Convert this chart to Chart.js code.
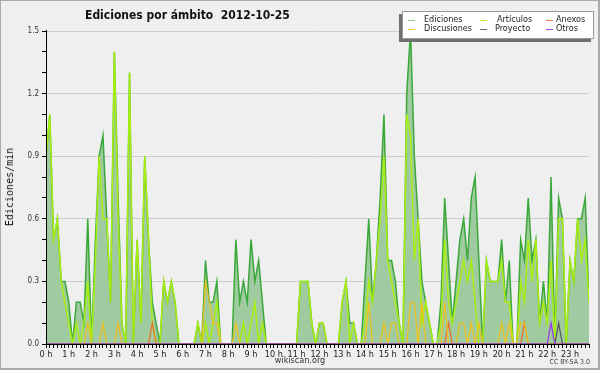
<!doctype html>
<html lang="es">
<head>
<meta charset="UTF-8" />
<title>Ediciones por ámbito 2012-10-25</title>
<script src="https://cdn.jsdelivr.net/npm/chart.js"></script>
<style>
  body { margin: 0; background: #fff; }
  #wrap {
    position: relative; width: 600px; height: 370px; background: #efefef;
    font-family: "DejaVu Sans Condensed", "DejaVu Sans", sans-serif; color: #222;
  }
  #wrap canvas { position: absolute; left: 0; top: 0; }
  .txt { position: absolute; white-space: pre; line-height: 1; }
  #title { left: 85px; top: 9px; font-size: 12px; font-weight: bold; color: #111; }
  #ylabel {
    left: 10px; top: 187px; font-family: "DejaVu Sans Mono", monospace; font-size: 10px;
    transform: translate(-50%, -50%) rotate(-90deg); color: #111;
  }
  #site { left: 300px; top: 356px; font-size: 9px; transform: translateX(-50%); color: #333; }
  #lic { right: 10px; top: 359px; font-size: 7px; color: #444; }
  #legend {
    position: absolute; left: 402px; top: 11px; width: 190px; height: 26px;
    background: #fff; border: 1px solid #999; box-shadow: -3px 3px 0 #707070;
  }
  .item { position: absolute; font-size: 9px; color: #222; line-height: 1; white-space: pre; }
  .item i { position: absolute; top: 5px; width: 7px; height: 1px; }
  #frame { position: absolute; left: 0; top: 0; width: 600px; height: 370px; box-sizing: border-box;
    border: 1px solid #aaa; border-right-width: 2px; border-bottom-width: 2px; pointer-events: none; }
</style>
</head>
<body>
<div id="wrap">
  <canvas id="chart" width="600" height="370"></canvas>
  <div class="txt" id="title">Ediciones por ámbito  2012-10-25</div>
  <div class="txt" id="ylabel">Ediciones/min</div>
  <div class="txt" id="site">wikiscan.org</div>
  <div class="txt" id="lic">CC BY-SA 3.0</div>
  <div id="legend"></div>
  <div id="frame"></div>
</div>

<script>
  // tick labels of the x axis, one per hour
  const hourLabels = ["0 h", "1 h", "2 h", "3 h", "4 h", "5 h", "6 h", "7 h", "8 h", "9 h", "10 h", "11 h",
    "12 h", "13 h", "14 h", "15 h", "16 h", "17 h", "18 h", "19 h", "20 h", "21 h", "22 h", "23 h"];
  const yTickLabels = ["0.0", "0.3", "0.6", "0.9", "1.2", "1.5"];

  // edits per minute, one value every 10 minutes (00:00 .. 23:50)
  const ediciones = [
    0.9, 1.1, 0.5, 0.6, 0.3, 0.3, 0.2, 0, 0.2, 0.2, 0.1, 0.6,
    0, 0.5, 0.9, 1.0, 0.6, 0.2, 1.4, 0.7, 0.1, 0, 1.3, 0,
    0.5, 0.1, 0.9, 0.5, 0.2, 0.1, 0, 0.3, 0.2, 0.3, 0.2, 0,
    0, 0, 0, 0, 0.1, 0, 0.4, 0.2, 0.2, 0.3, 0, 0,
    0, 0, 0.5, 0.2, 0.3, 0.2, 0.5, 0.3, 0.4, 0.2, 0, 0,
    0, 0, 0, 0, 0, 0, 0, 0.3, 0.3, 0.3, 0.1, 0,
    0.1, 0.1, 0, 0, 0, 0, 0.2, 0.3, 0.1, 0.1, 0, 0,
    0.3, 0.6, 0.2, 0.4, 0.7, 1.1, 0.4, 0.4, 0.3, 0.1, 0, 1.2,
    1.5, 0.9, 0.6, 0.3, 0.2, 0.1, 0, 0, 0.2, 0.7, 0.4, 0.1,
    0.3, 0.5, 0.6, 0.4, 0.7, 0.8, 0.4, 0, 0.4, 0.3, 0.3, 0.3,
    0.5, 0.2, 0.4, 0, 0, 0.5, 0.4, 0.7, 0.4, 0.5, 0.1, 0.3,
    0.1, 0.8, 0, 0.7, 0.6, 0, 0.4, 0.3, 0.6, 0.6, 0.7, 0.2
  ];
  const articulos = [
    0.9, 1.1, 0.5, 0.6, 0.3, 0.2, 0.1, 0, 0.1, 0, 0.1, 0.3,
    0, 0.4, 0.9, 0.6, 0.6, 0.2, 1.4, 0.6, 0.1, 0, 1.3, 0,
    0.5, 0.1, 0.9, 0.5, 0.1, 0, 0, 0.3, 0.2, 0.3, 0.2, 0,
    0, 0, 0, 0, 0.1, 0, 0.1, 0, 0.1, 0.2, 0, 0,
    0, 0, 0, 0, 0.1, 0, 0.1, 0.2, 0, 0.1, 0, 0,
    0, 0, 0, 0, 0, 0, 0, 0.3, 0.3, 0.3, 0.1, 0,
    0.1, 0.1, 0, 0, 0, 0, 0.2, 0.3, 0, 0.1, 0, 0,
    0.1, 0.3, 0.2, 0.4, 0.6, 0.9, 0.4, 0.3, 0.2, 0.1, 0, 1.1,
    1.0, 0.4, 0.6, 0.1, 0.2, 0.1, 0, 0, 0.1, 0.5, 0.2, 0.1,
    0.2, 0.3, 0.4, 0.3, 0.4, 0.2, 0, 0, 0.4, 0.3, 0.3, 0.3,
    0.4, 0.2, 0.2, 0, 0, 0.3, 0.2, 0.5, 0.3, 0.5, 0.1, 0.2,
    0.1, 0.4, 0, 0.6, 0.6, 0, 0.4, 0.3, 0.6, 0.4, 0.5, 0.2
  ];
  const discusiones = [
    0, 0, 0, 0, 0, 0, 0, 0, 0, 0, 0, 0.1,
    0, 0, 0, 0.1, 0, 0, 0, 0.1, 0, 0, 0, 0,
    0, 0, 0, 0, 0, 0, 0, 0, 0, 0, 0, 0,
    0, 0, 0, 0, 0, 0, 0.3, 0.2, 0.1, 0.1, 0, 0,
    0, 0, 0.1, 0, 0, 0, 0, 0, 0, 0, 0, 0,
    0, 0, 0, 0, 0, 0, 0, 0, 0, 0, 0, 0,
    0, 0, 0, 0, 0, 0, 0, 0, 0, 0, 0, 0,
    0, 0.2, 0, 0, 0, 0.1, 0, 0.1, 0.1, 0, 0, 0,
    0.2, 0.2, 0, 0.2, 0, 0, 0, 0, 0, 0.2, 0, 0,
    0, 0.1, 0.1, 0, 0.1, 0, 0.1, 0, 0, 0, 0, 0,
    0.1, 0, 0.1, 0, 0, 0.1, 0.1, 0, 0, 0, 0, 0,
    0, 0, 0, 0, 0, 0, 0, 0, 0, 0, 0, 0
  ];
  const anexos = [
    0, 0, 0, 0, 0, 0, 0, 0, 0, 0, 0, 0,
    0, 0, 0, 0, 0, 0, 0, 0, 0, 0, 0, 0,
    0, 0, 0, 0, 0.1, 0, 0, 0, 0, 0, 0, 0,
    0, 0, 0, 0, 0, 0, 0, 0, 0, 0, 0, 0,
    0, 0, 0, 0, 0, 0, 0, 0, 0, 0, 0, 0,
    0, 0, 0, 0, 0, 0, 0, 0, 0, 0, 0, 0,
    0, 0, 0, 0, 0, 0, 0, 0, 0, 0, 0, 0,
    0, 0, 0, 0, 0, 0, 0, 0, 0, 0, 0, 0,
    0, 0, 0, 0, 0, 0, 0, 0, 0, 0, 0.1, 0,
    0, 0, 0, 0, 0, 0, 0, 0, 0, 0, 0, 0,
    0, 0, 0, 0, 0, 0, 0.1, 0, 0, 0, 0, 0,
    0, 0, 0, 0, 0, 0, 0, 0, 0, 0, 0, 0
  ];
  const proyecto = [
    0, 0, 0, 0, 0, 0, 0, 0, 0, 0, 0, 0,
    0, 0, 0, 0, 0, 0, 0, 0, 0, 0, 0, 0,
    0, 0, 0, 0, 0, 0, 0, 0, 0, 0, 0, 0,
    0, 0, 0, 0, 0, 0, 0, 0, 0, 0, 0, 0,
    0, 0, 0, 0, 0, 0, 0, 0, 0, 0, 0, 0,
    0, 0, 0, 0, 0, 0, 0, 0, 0, 0, 0, 0,
    0, 0, 0, 0, 0, 0, 0, 0, 0, 0, 0, 0,
    0, 0, 0, 0, 0, 0, 0, 0, 0, 0, 0, 0,
    0, 0, 0, 0, 0, 0, 0, 0, 0, 0, 0, 0,
    0, 0, 0, 0, 0, 0, 0, 0, 0, 0, 0, 0,
    0, 0, 0, 0, 0, 0, 0, 0, 0, 0, 0, 0,
    0, 0, 0, 0.1, 0, 0, 0, 0, 0, 0, 0, 0
  ];
  const otros = [
    0, 0, 0, 0, 0, 0, 0, 0, 0, 0, 0, 0,
    0, 0, 0, 0, 0, 0, 0, 0, 0, 0, 0, 0,
    0, 0, 0, 0, 0, 0, 0, 0, 0, 0, 0, 0,
    0, 0, 0, 0, 0, 0, 0, 0, 0, 0, 0, 0,
    0, 0, 0, 0, 0, 0, 0, 0, 0, 0, 0, 0,
    0, 0, 0, 0, 0, 0, 0, 0, 0, 0, 0, 0,
    0, 0, 0, 0, 0, 0, 0, 0, 0, 0, 0, 0,
    0, 0, 0, 0, 0, 0, 0, 0, 0, 0, 0, 0,
    0, 0, 0, 0, 0, 0, 0, 0, 0, 0, 0, 0,
    0, 0, 0, 0, 0, 0, 0, 0, 0, 0, 0, 0,
    0, 0, 0, 0, 0, 0, 0, 0, 0, 0, 0, 0,
    0, 0.1, 0, 0, 0, 0, 0, 0, 0, 0, 0, 0
  ];

  const series = [
    { name: "Ediciones", data: ediciones, color: "#3aa83a", key: "#7fcf7f", width: 1.5 },
    { name: "Artículos", data: articulos, color: "#aaee11", key: "#bbee33", width: 1.5 },
    { name: "Anexos", data: anexos, color: "#ee6a2a", key: "#ee7744", width: 1.2 },
    { name: "Discusiones", data: discusiones, color: "#f2c21b", key: "#f5cc33", width: 1.2 },
    { name: "Proyecto", data: proyecto, color: "#555555", key: "#666666", width: 1.2 },
    { name: "Otros", data: otros, color: "#9a33ee", key: "#9a44ee", width: 1.2 },
  ];

  // legend, two rows of three: [text left, text top, offset of the line key]
  const legendPos = {
    "Ediciones": [21, 3, -16], "Artículos": [94, 3, -17], "Anexos": [153, 3, -10],
    "Discusiones": [21, 12, -16], "Proyecto": [92, 12, -15], "Otros": [153, 12, -10],
  };
  const legend = document.getElementById("legend");
  series.forEach((s) => {
    const [l, t, k] = legendPos[s.name];
    const el = document.createElement("span");
    el.className = "item";
    el.style.left = l + "px";
    el.style.top = t + "px";
    el.innerHTML = `<i style="left:${k}px;background:${s.key}"></i>${s.name}`;
    legend.appendChild(el);
  });

  const FONT = "'DejaVu Sans Condensed', 'DejaVu Sans', sans-serif";

  // axes in black, drawn over the series lines that sit on zero
  const axisLines = {
    id: "axisLines",
    afterDatasetsDraw(chart) {
      const { ctx, chartArea: a } = chart;
      ctx.save();
      ctx.strokeStyle = "#000";
      ctx.lineWidth = 1;
      ctx.beginPath();
      ctx.moveTo(a.left + 0.5, a.top - 1);
      ctx.lineTo(a.left + 0.5, a.bottom + 0.5);
      ctx.lineTo(a.right + 1, a.bottom + 0.5);
      ctx.stroke();
      ctx.restore();
    },
  };

  new Chart(document.getElementById("chart"), {
    type: "line",
    data: {
      datasets: series.map((s, k) => ({
        label: s.name,
        data: s.data.map((v, i) => ({ x: i, y: v })),
        borderColor: s.color,
        borderWidth: s.width,
        backgroundColor: k === 0 ? "#a0cba0" : s.color,
        fill: k === 0 ? "origin" : false,
        pointRadius: 0,
        tension: 0,
        order: k === 0 ? 10 : 6 - k,
      })),
    },
    options: {
      responsive: false,
      animation: false,
      layout: { padding: { top: 31, right: 11, left: 0, bottom: 0 } },
      plugins: { legend: { display: false }, tooltip: { enabled: false } },
      scales: {
        x: {
          type: "linear",
          min: 0,
          max: 143,
          afterFit: (s) => { s.height = 26; },
          border: { display: false },
          grid: { drawOnChartArea: false, tickColor: "#000", tickLength: 4 },
          ticks: {
            stepSize: 1,
            autoSkip: false,
            maxRotation: 0,
            padding: 1,
            color: "#222",
            font: { family: FONT, size: 9 },
            callback: (v) => (v % 6 === 0 ? hourLabels[v / 6] : ""),
          },
        },
        y: {
          min: 0,
          max: 1.5,
          afterFit: (s) => { s.width = 46; },
          border: { display: false },
          grid: {
            color: (c) => {
              const k = Math.round(c.tick.value * 10);
              return k > 0 && k % 3 === 0 ? "#cdcdcd" : "rgba(0,0,0,0)";
            },
            tickColor: "#000",
            tickLength: 4,
          },
          ticks: {
            stepSize: 0.1,
            autoSkip: false,
            padding: 3,
            color: "#333",
            font: { family: FONT, size: 8 },
            callback: (v) => {
              const k = Math.round(v * 10);
              return k % 3 === 0 ? yTickLabels[k / 3] : "";
            },
          },
        },
      },
    },
    plugins: [axisLines],
  });
</script>
</body>
</html>
